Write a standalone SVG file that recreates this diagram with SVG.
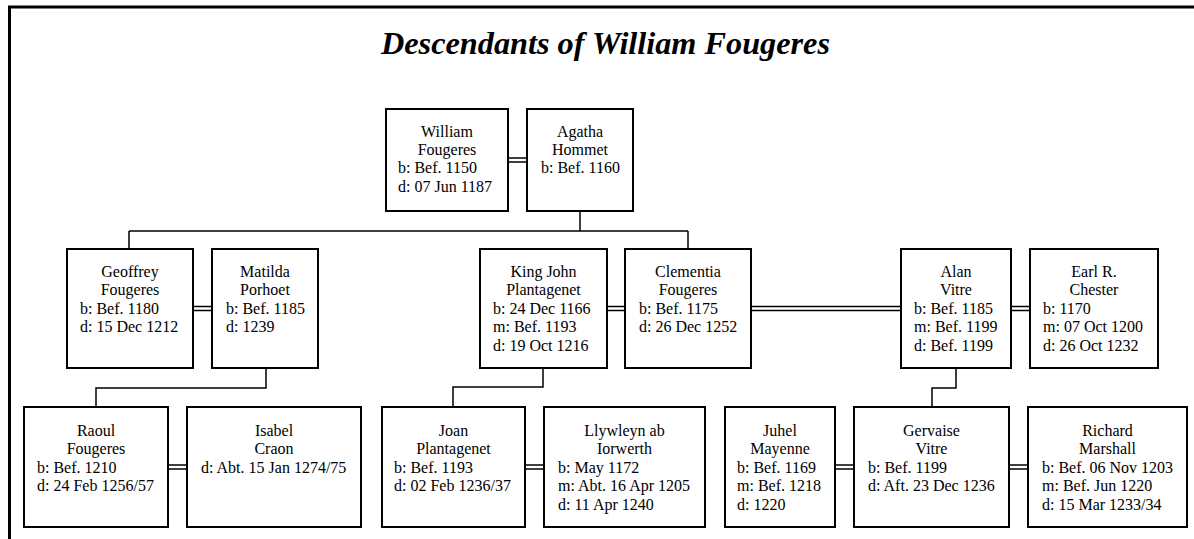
<svg xmlns="http://www.w3.org/2000/svg" width="1194" height="539" viewBox="0 0 1194 539">
<style>
.box{fill:#fff;stroke:#000;stroke-width:2}
.c{fill:none;stroke:#000;stroke-width:1.5}
text{font-family:"Liberation Serif","Times New Roman",serif;font-size:16px;fill:#000}
.n{text-anchor:middle}
.title{font-family:"Liberation Serif","Times New Roman",serif;font-size:31.5px;font-weight:bold;font-style:italic}
</style>
<rect width="1194" height="539" fill="#fff"/>
<path d="M9.5 539V7H1194" fill="none" stroke="#000" stroke-width="3"/>
<text class="title" x="381" y="54" textLength="449" lengthAdjust="spacingAndGlyphs">Descendants of William Fougeres</text>
<g id="connectors">
<path class="c" d="M508 158H527M508 162H527"/>
<path class="c" d="M580 211V231M129 231H688M129 231V249M688 231V249"/>
<path class="c" d="M193 306.5H212M193 310.5H212"/>
<path class="c" d="M607 306.5H625M607 310.5H625"/>
<path class="c" d="M751 306.5H901M751 310.5H901"/>
<path class="c" d="M1011 306.5H1030M1011 310.5H1030"/>
<path class="c" d="M266 368V388H96V407"/>
<path class="c" d="M543 368V387H453V407"/>
<path class="c" d="M956 368V388H932V407"/>
<path class="c" d="M168 465H187M168 469H187"/>
<path class="c" d="M525 465H544M525 469H544"/>
<path class="c" d="M835 465H854M835 469H854"/>
<path class="c" d="M1009 465H1028M1009 469H1028"/>
</g>
<g id="william">
<rect class="box" x="386" y="109" width="122" height="102"/>
<text class="n" x="447" y="136.5">William</text>
<text class="n" x="447" y="155">Fougeres</text>
<text x="398" y="173">b: Bef. 1150</text>
<text x="398" y="191.5">d: 07 Jun 1187</text>
</g>
<g id="agatha">
<rect class="box" x="527" y="109" width="106" height="102"/>
<text class="n" x="580" y="136.5">Agatha</text>
<text class="n" x="580" y="155">Hommet</text>
<text x="541" y="173">b: Bef. 1160</text>
</g>
<g id="geoffrey">
<rect class="box" x="67" y="249" width="126" height="119"/>
<text class="n" x="130" y="277">Geoffrey</text>
<text class="n" x="130" y="295">Fougeres</text>
<text x="80" y="313.5">b: Bef. 1180</text>
<text x="80" y="332">d: 15 Dec 1212</text>
</g>
<g id="matilda">
<rect class="box" x="212" y="249" width="106" height="119"/>
<text class="n" x="265" y="277">Matilda</text>
<text class="n" x="265" y="295">Porhoet</text>
<text x="226" y="313.5">b: Bef. 1185</text>
<text x="226" y="332">d: 1239</text>
</g>
<g id="kingjohn">
<rect class="box" x="480" y="249" width="127" height="119"/>
<text class="n" x="543.5" y="277">King John</text>
<text class="n" x="543.5" y="295">Plantagenet</text>
<text x="493" y="313.5">b: 24 Dec 1166</text>
<text x="493" y="332">m: Bef. 1193</text>
<text x="493" y="350.5">d: 19 Oct 1216</text>
</g>
<g id="clementia">
<rect class="box" x="625" y="249" width="126" height="119"/>
<text class="n" x="688" y="277">Clementia</text>
<text class="n" x="688" y="295">Fougeres</text>
<text x="639" y="313.5">b: Bef. 1175</text>
<text x="639" y="332">d: 26 Dec 1252</text>
</g>
<g id="alan">
<rect class="box" x="901" y="249" width="110" height="119"/>
<text class="n" x="956" y="277">Alan</text>
<text class="n" x="956" y="295">Vitre</text>
<text x="914" y="313.5">b: Bef. 1185</text>
<text x="914" y="332">m: Bef. 1199</text>
<text x="914" y="350.5">d: Bef. 1199</text>
</g>
<g id="earl">
<rect class="box" x="1030" y="249" width="128" height="119"/>
<text class="n" x="1094" y="277">Earl R.</text>
<text class="n" x="1094" y="295">Chester</text>
<text x="1043" y="313.5">b: 1170</text>
<text x="1043" y="332">m: 07 Oct 1200</text>
<text x="1043" y="350.5">d: 26 Oct 1232</text>
</g>
<g id="raoul">
<rect class="box" x="24" y="407" width="144" height="120"/>
<text class="n" x="96" y="435.5">Raoul</text>
<text class="n" x="96" y="454">Fougeres</text>
<text x="37" y="472.5">b: Bef. 1210</text>
<text x="37" y="491">d: 24 Feb 1256/57</text>
</g>
<g id="isabel">
<rect class="box" x="187" y="407" width="174" height="120"/>
<text class="n" x="274" y="435.5">Isabel</text>
<text class="n" x="274" y="454">Craon</text>
<text x="201" y="472.5">d: Abt. 15 Jan 1274/75</text>
</g>
<g id="joan">
<rect class="box" x="382" y="407" width="143" height="120"/>
<text class="n" x="453.5" y="435.5">Joan</text>
<text class="n" x="453.5" y="454">Plantagenet</text>
<text x="394" y="472.5">b: Bef. 1193</text>
<text x="394" y="491">d: 02 Feb 1236/37</text>
</g>
<g id="llywleyn">
<rect class="box" x="544" y="407" width="161" height="120"/>
<text class="n" x="624.5" y="435.5">Llywleyn ab</text>
<text class="n" x="624.5" y="454">Iorwerth</text>
<text x="558" y="472.5">b: May 1172</text>
<text x="558" y="491">m: Abt. 16 Apr 1205</text>
<text x="558" y="509.5">d: 11 Apr 1240</text>
</g>
<g id="juhel">
<rect class="box" x="725" y="407" width="110" height="120"/>
<text class="n" x="780" y="435.5">Juhel</text>
<text class="n" x="780" y="454">Mayenne</text>
<text x="737" y="472.5">b: Bef. 1169</text>
<text x="737" y="491">m: Bef. 1218</text>
<text x="737" y="509.5">d: 1220</text>
</g>
<g id="gervaise">
<rect class="box" x="854" y="407" width="155" height="120"/>
<text class="n" x="931.5" y="435.5">Gervaise</text>
<text class="n" x="931.5" y="454">Vitre</text>
<text x="868" y="472.5">b: Bef. 1199</text>
<text x="868" y="491">d: Aft. 23 Dec 1236</text>
</g>
<g id="richard">
<rect class="box" x="1028" y="407" width="159" height="120"/>
<text class="n" x="1107.5" y="435.5">Richard</text>
<text class="n" x="1107.5" y="454">Marshall</text>
<text x="1042" y="472.5">b: Bef. 06 Nov 1203</text>
<text x="1042" y="491">m: Bef. Jun 1220</text>
<text x="1042" y="509.5">d: 15 Mar 1233/34</text>
</g>
</svg>
